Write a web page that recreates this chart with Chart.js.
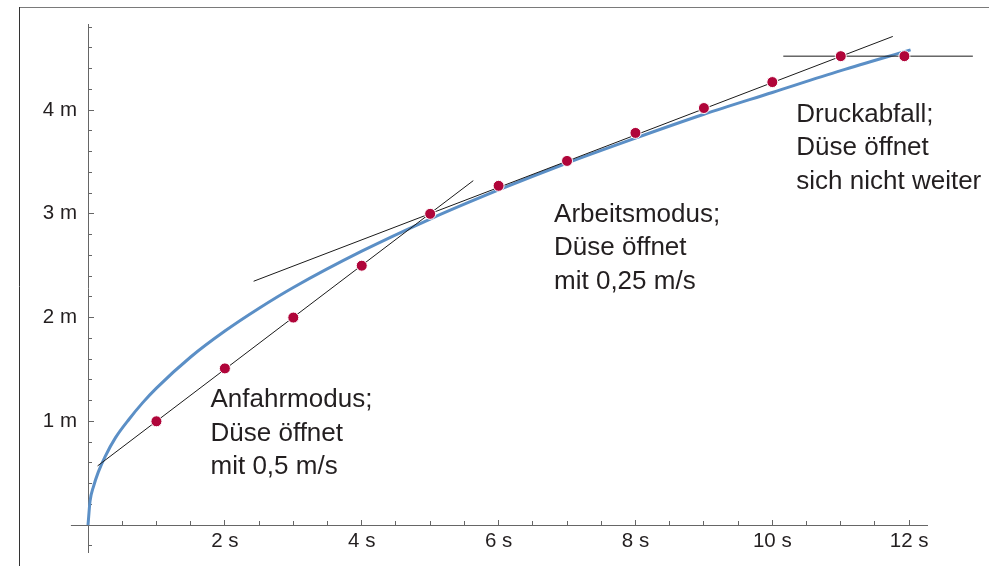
<!DOCTYPE html>
<html>
<head>
<meta charset="utf-8">
<script src="https://cdn.jsdelivr.net/npm/chart.js@4.4.0/dist/chart.umd.min.js"></script>
<style>
  html, body { margin: 0; padding: 0; background: #fff; }
  #wrap { position: relative; width: 989px; height: 566px; overflow: hidden; }
</style>
</head>
<body>
<div id="wrap"><canvas id="chart" width="989" height="566"></canvas></div>
<script>
// measured points (time in s, height in m)
const pointTimes = [1, 2, 3, 4, 5, 6, 7, 8, 9, 10, 11, 11.93];
const pointHeights = [1.0, 1.51, 2.0, 2.5, 3.0, 3.27, 3.51, 3.78, 4.02, 4.27, 4.52, 4.52];

// blue curve
const curveTimes = [0, 0.03, 0.08, 0.15, 0.25, 0.4, 0.6, 0.8, 1, 1.5, 2, 2.5, 3, 4, 5, 6, 7, 8, 9, 10, 11, 12.02];
const curveHeights = [0, 0.23, 0.37, 0.51, 0.66, 0.84, 1.02, 1.18, 1.32, 1.62, 1.87, 2.09, 2.29, 2.64, 2.95, 3.23, 3.49, 3.73, 3.96, 4.17, 4.38, 4.58];

// thin black guide lines
const startLineTimes = [0.14, 5.63];
const startLineHeights = [0.57, 3.32];
const workLineTimes = [2.42, 11.76];
const workLineHeights = [2.35, 4.71];
const dropLineTimes = [10.16, 12.93];
const dropLineHeights = [4.52, 4.52];

// axes
const xMajorTicks = [2, 4, 6, 8, 10, 12];
const xTickLabels = ['2 s', '4 s', '6 s', '8 s', '10 s', '12 s'];
const xMinorTicks = [0.5, 1, 1.5, 2.5, 3, 3.5, 4.5, 5, 5.5, 6.5, 7, 7.5, 8.5, 9, 9.5, 10.5, 11, 11.5];
const yMajorTicks = [1, 2, 3, 4];
const yTickLabels = ['1 m', '2 m', '3 m', '4 m'];
const yMinorTicks = [-0.2, 0.2, 0.4, 0.6, 0.8, 1.2, 1.4, 1.6, 1.8, 2.2, 2.4, 2.6, 2.8, 3.2, 3.4, 3.6, 3.8, 4.2, 4.4, 4.6, 4.8];

// annotation texts
const noteTexts = [
  ['Anfahrmodus;', 'Düse öffnet', 'mit 0,5 m/s'],
  ['Arbeitsmodus;', 'Düse öffnet', 'mit 0,25 m/s'],
  ['Druckabfall;', 'Düse öffnet', 'sich nicht weiter']
];

const pairs = (xs, ys) => xs.map((x, i) => ({ x: x, y: ys[i] }));

Chart.defaults.font.family = '"Liberation Sans", Arial, sans-serif';

const AXIS = '#666666';
const TEXT = '#231f20';

// outer frame, short x-axis stub left of the y-axis, annotation text
const extras = {
  id: 'extras',
  beforeDraw(chart) {
    const ctx = chart.ctx;
    ctx.save();
    ctx.lineWidth = 1;
    ctx.strokeStyle = '#7a7a7a';
    ctx.beginPath();
    ctx.moveTo(19, 7.5);
    ctx.lineTo(989, 7.5);
    ctx.stroke();
    ctx.strokeStyle = '#333333';
    ctx.beginPath();
    ctx.moveTo(19.5, 7);
    ctx.lineTo(19.5, 566);
    ctx.stroke();
    ctx.restore();
  },
  afterDraw(chart) {
    const ctx = chart.ctx;
    const xs = chart.scales.x;
    const ys = chart.scales.y;

    const y0 = Math.round(ys.getPixelForValue(0)) + 0.5;
    ctx.save();
    ctx.strokeStyle = AXIS;
    ctx.lineWidth = 1;
    ctx.beginPath();
    ctx.moveTo(xs.getPixelForValue(-0.25), y0);
    ctx.lineTo(xs.left, y0);
    ctx.stroke();

    const anchors = [[1.79, 1.135], [6.81, 2.925], [10.35, 3.89]];
    ctx.fillStyle = TEXT;
    ctx.font = '26px "Liberation Sans", Arial, sans-serif';
    ctx.textAlign = 'left';
    ctx.textBaseline = 'alphabetic';
    noteTexts.forEach((lines, i) => {
      const px = xs.getPixelForValue(anchors[i][0]);
      const py = ys.getPixelForValue(anchors[i][1]);
      lines.forEach((line, j) => ctx.fillText(line, px, py + j * 33.5));
    });
    ctx.restore();
  }
};

// position: where the axis sits; boxSize: fixed room it takes in the layout
function axisOpts(axis, position, ticksList, labels, len, pad, boxSize) {
  const horizontal = axis === 'x';
  const showLabels = labels !== null;
  return {
    type: 'linear',
    position: position,
    min: horizontal ? 0 : -0.26,
    max: horizontal ? 12.26 : 4.83,
    afterBuildTicks: (s) => { s.ticks = ticksList.map(v => ({ value: v })); },
    afterFit: (s) => {
      if (horizontal) s.height = boxSize; else s.width = boxSize;
      s.paddingTop = 0; s.paddingBottom = 0; s.paddingLeft = 0; s.paddingRight = 0;
    },
    grid: { drawOnChartArea: false, drawTicks: true, tickLength: len, tickColor: AXIS, tickWidth: 1 },
    border: { display: showLabels, color: AXIS, width: 1 },
    ticks: {
      display: showLabels,
      autoSkip: false,
      maxRotation: 0,
      padding: pad,
      color: TEXT,
      font: { size: 20.5 },
      callback: (v) => showLabels ? labels[ticksList.indexOf(v)] : ''
    }
  };
}

new Chart(document.getElementById('chart'), {
  type: 'scatter',
  data: {
    datasets: [
      {
        data: pairs(pointTimes, pointHeights),
        showLine: false,
        pointRadius: 5.5,
        pointBackgroundColor: '#b0053a',
        pointBorderColor: '#ffffff',
        pointBorderWidth: 1,
        order: 0
      },
      {
        data: pairs(startLineTimes, startLineHeights),
        showLine: true, pointRadius: 0, borderColor: '#1a1a1a', borderWidth: 1, order: 1
      },
      {
        data: pairs(workLineTimes, workLineHeights),
        showLine: true, pointRadius: 0, borderColor: '#1a1a1a', borderWidth: 1, order: 1
      },
      {
        data: pairs(dropLineTimes, dropLineHeights),
        showLine: true, pointRadius: 0, borderColor: '#1a1a1a', borderWidth: 1, order: 1, clip: false
      },
      {
        data: pairs(curveTimes, curveHeights),
        showLine: true, pointRadius: 0, borderColor: '#5b8fc6', borderWidth: 3,
        cubicInterpolationMode: 'monotone', order: 2, clip: 2
      }
    ]
  },
  options: {
    responsive: false,
    animation: false,
    layout: { padding: { left: 28, right: 62, top: 24, bottom: 14 } },
    plugins: { legend: { display: false }, tooltip: { enabled: false } },
    scales: {
      x: axisOpts('x', { y: 0 }, xMajorTicks, xTickLabels, -6, 10, 0),
      xMinor: axisOpts('x', { y: 0 }, xMinorTicks, null, -4, 0, 0),
      y: axisOpts('y', 'left', yMajorTicks, yTickLabels, -6, 17, 60),
      yMinor: axisOpts('y', { x: 0 }, yMinorTicks, null, -4, 0, 0)
    }
  },
  plugins: [extras]
});
</script>
</body>
</html>
